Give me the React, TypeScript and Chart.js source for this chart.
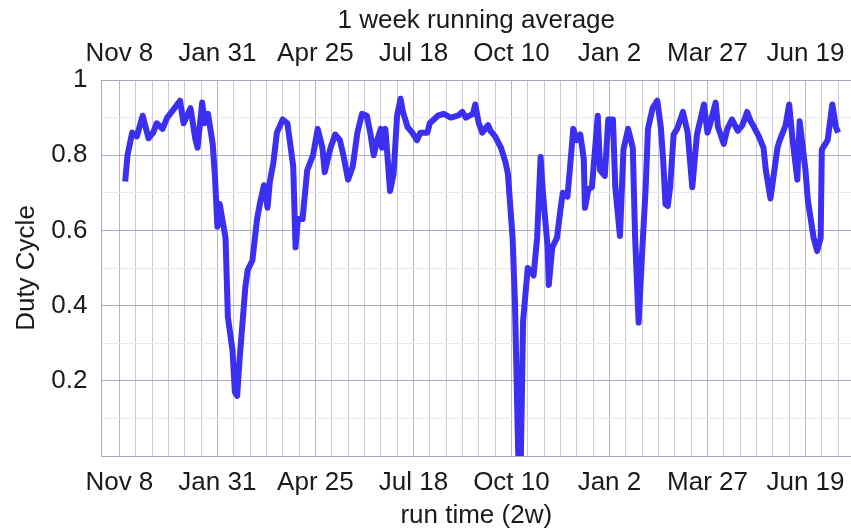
import React, { useEffect, useRef } from "react";
import { Chart, registerables } from "chart.js";

Chart.register(...registerables);

// days since Nov 8 (first labelled date)
const DAYS = [
  5, 7, 11, 15, 20, 25, 29, 32, 37, 41, 46, 52, 55, 61, 65, 67, 71, 73, 76, 80,
  82, 84, 86, 91, 93, 97, 99, 101, 103, 108, 110, 114, 118, 121, 124, 127, 129, 132, 135, 140,
  144, 146, 149, 151, 153, 157, 161, 166, 170, 174, 176, 181, 185, 189, 192, 196, 200, 204, 208, 212,
  215, 218, 221, 224, 225, 228, 232, 235, 238, 241, 243, 247, 251, 255, 258, 264, 266, 273, 278, 284,
  290, 294, 297, 303, 305, 308, 311, 316, 318, 322, 327, 331, 333, 337, 339, 342, 344, 346, 350, 352,
  355, 358, 361, 363, 367, 368, 371, 375, 378, 380, 384, 386, 389, 392, 395, 398, 399, 402, 405, 410,
  412, 416, 419, 423, 425, 429, 432, 436, 440, 442, 445, 448, 451, 453, 457, 461, 464, 466, 468, 470,
  472, 475, 478, 483, 487, 491, 495, 498, 501, 504, 506, 511, 513, 518, 521, 525, 530, 534, 538, 541,
  543, 548, 552, 554, 558, 560, 564, 566, 571, 574, 577, 581, 583, 588, 590, 595, 598, 601, 602, 607,
  611, 614, 616,
];

const DUTY = [
  0.73, 0.8, 0.86, 0.85, 0.905, 0.845, 0.86, 0.885, 0.87, 0.9, 0.92, 0.945, 0.885, 0.925, 0.845, 0.82, 0.94, 0.885, 0.91, 0.83,
  0.74, 0.61, 0.67, 0.58, 0.37, 0.28, 0.17, 0.16, 0.255, 0.45, 0.495, 0.52, 0.63, 0.68, 0.72, 0.66, 0.73, 0.78, 0.86, 0.895,
  0.885, 0.84, 0.77, 0.555, 0.63, 0.63, 0.76, 0.8, 0.87, 0.82, 0.755, 0.82, 0.855, 0.84, 0.8, 0.735, 0.77, 0.86, 0.91, 0.905,
  0.86, 0.8, 0.84, 0.87, 0.82, 0.87, 0.705, 0.75, 0.905, 0.95, 0.915, 0.875, 0.86, 0.84, 0.86, 0.86, 0.885, 0.905, 0.91, 0.9,
  0.905, 0.915, 0.9, 0.91, 0.935, 0.885, 0.86, 0.88, 0.865, 0.85, 0.82, 0.78, 0.75, 0.58, 0.41, -0.02, -0.02, 0.36, 0.5, 0.495,
  0.48, 0.58, 0.795, 0.7, 0.555, 0.455, 0.555, 0.58, 0.655, 0.7, 0.69, 0.76, 0.87, 0.84, 0.855, 0.79, 0.66, 0.71, 0.715, 0.905,
  0.76, 0.745, 0.895, 0.895, 0.715, 0.585, 0.815, 0.87, 0.82, 0.58, 0.355, 0.54, 0.71, 0.87, 0.925, 0.945, 0.875, 0.79, 0.67, 0.665,
  0.715, 0.855, 0.87, 0.915, 0.86, 0.715, 0.855, 0.895, 0.935, 0.86, 0.88, 0.94, 0.875, 0.83, 0.87, 0.895, 0.865, 0.88, 0.915, 0.89,
  0.88, 0.85, 0.82, 0.76, 0.685, 0.73, 0.82, 0.84, 0.88, 0.935, 0.84, 0.735, 0.89, 0.76, 0.68, 0.58, 0.545, 0.58, 0.815, 0.84,
  0.935, 0.875, 0.86,
];

const TICK_LABELS = ["Nov 8", "Jan 31", "Apr 25", "Jul 18", "Oct 10", "Jan 2", "Mar 27", "Jun 19"];
const GRID_STEP_DAYS = 14;
const LABEL_STEP_DAYS = 84;
const LAST_GRID_DAY = 616;
const X_MIN = -15.3;
const X_MAX = 627;
const Y_TICKS = [0, 0.1, 0.2, 0.3, 0.4, 0.5, 0.6, 0.7, 0.8, 0.9, 1];
const Y_LABELS: Record<string, string> = { "0.2": "0.2", "0.4": "0.4", "0.6": "0.6", "0.8": "0.8", "1": "1" };

const TITLE_TOP = "1 week running average";
const TITLE_X = "run time (2w)";
const TITLE_Y = "Duty Cycle";

const FONT_FAMILY = "'Liberation Sans', Arial, Helvetica, sans-serif";
const FONT_SIZE = 26;

export default function App() {
  const ref = useRef<HTMLCanvasElement | null>(null);

  useEffect(() => {
    if (!ref.current) return;
    const gridTicks: number[] = [];
    for (let d = 0; d <= LAST_GRID_DAY; d += GRID_STEP_DAYS) gridTicks.push(d);

    const xLabel = (v: number) => {
      if (v % LABEL_STEP_DAYS !== 0) return "";
      const i = v / LABEL_STEP_DAYS;
      return TICK_LABELS[i] ?? "";
    };
    const font = { family: FONT_FAMILY, size: FONT_SIZE };

    const chart = new Chart(ref.current, {
      type: "line",
      data: {
        datasets: [
          {
            data: DAYS.map((d, i) => ({ x: d, y: DUTY[i] })),
            borderColor: "#3b2ff2",
            borderWidth: 6,
            pointRadius: 0,
            tension: 0,
            borderJoinStyle: "round",
            clip: 0,
          } as any,
        ],
      },
      options: {
        animation: false,
        responsive: false,
        devicePixelRatio: 1,
        layout: { padding: 0 },
        plugins: { legend: { display: false }, tooltip: { enabled: false } },
        scales: {
          x: {
            type: "linear",
            position: "bottom",
            min: X_MIN,
            max: X_MAX,
            afterBuildTicks: (s: any) => {
              s.ticks = gridTicks.map((v) => ({ value: v }));
            },
            afterFit: (s: any) => {
              s.height = 75;
            },
            ticks: {
              autoSkip: false,
              maxRotation: 0,
              minRotation: 0,
              padding: 11,
              color: "#1a1a1a",
              font,
              callback: (v: any) => xLabel(Number(v)),
            },
            grid: {
              drawTicks: false,
              color: (c: any) => (c.tick && c.tick.value % LABEL_STEP_DAYS === 0 ? "#b4b4cc" : "#c9c9df"),
              lineWidth: 1,
            },
            border: { color: "#a6a6bc", width: 1 },
            title: {
              display: true,
              text: TITLE_X,
              color: "#1a1a1a",
              font,
              padding: { top: 0, bottom: 0 },
            },
          },
          x2: {
            type: "linear",
            position: "top",
            min: X_MIN,
            max: X_MAX,
            afterBuildTicks: (s: any) => {
              s.ticks = gridTicks.map((v) => ({ value: v }));
            },
            afterFit: (s: any) => {
              s.height = 80;
            },
            ticks: {
              autoSkip: false,
              maxRotation: 0,
              minRotation: 0,
              padding: 11,
              color: "#1a1a1a",
              font,
              callback: (v: any) => xLabel(Number(v)),
            },
            grid: { display: false, drawTicks: false },
            border: { color: "#a6a6bc", width: 1 },
            title: {
              display: true,
              text: TITLE_TOP,
              color: "#1a1a1a",
              font,
              padding: { top: 5, bottom: 0 },
            },
          },
          y: {
            type: "linear",
            position: "left",
            min: 0,
            max: 1,
            afterBuildTicks: (s: any) => {
              s.ticks = Y_TICKS.map((v) => ({ value: v }));
            },
            afterFit: (s: any) => {
              s.width = 101.5;
            },
            ticks: {
              padding: 14,
              color: "#1a1a1a",
              font,
              callback: (v: any) => Y_LABELS[String(Math.round(Number(v) * 10) / 10)] ?? "",
            },
            grid: {
              drawTicks: false,
              color: (c: any) => {
                const v = Math.round((c.tick ? c.tick.value : 0) * 10);
                return v % 2 === 0 ? "#ababc6" : "#e9e9f2";
              },
              lineWidth: 1,
            },
            border: { color: "#a6a6bc", width: 1 },
            title: {
              display: true,
              text: TITLE_Y,
              color: "#1a1a1a",
              font,
              padding: { top: 11, bottom: 0 },
            },
          },
        },
      } as any,
    });
    return () => chart.destroy();
  }, []);

  return (
    <div style={{ position: "absolute", left: 0, top: 0, width: 851, height: 531, background: "#fff" }}>
      <canvas ref={ref} width={851} height={531} style={{ display: "block", width: 851, height: 531 }} />
    </div>
  );
}
